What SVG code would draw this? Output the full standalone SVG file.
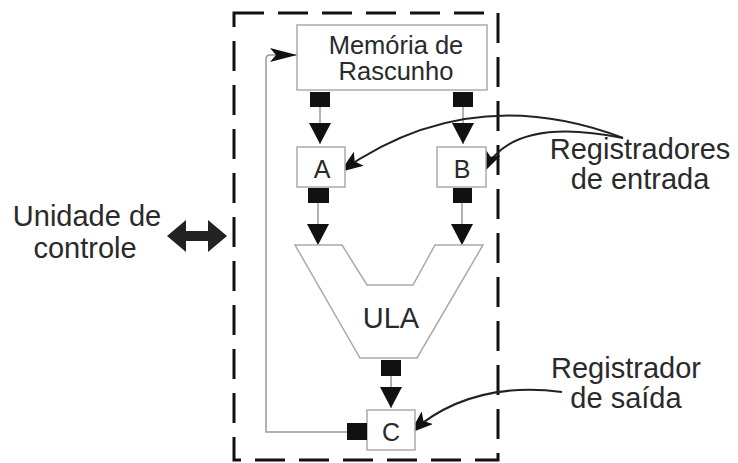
<svg xmlns="http://www.w3.org/2000/svg" width="738" height="463" viewBox="0 0 738 463">
<style>
.box{fill:#fff;stroke:#aaa;stroke-width:1.5}
.sq{fill:#111}
.t{font-family:"Liberation Sans",Arial,sans-serif;fill:#2a2a2a;text-anchor:middle}
.wire{fill:none;stroke:#999;stroke-width:1.5}
.curve{fill:none;stroke:#222;stroke-width:2}
</style>
<defs>
<marker id="down" markerUnits="userSpaceOnUse" markerWidth="22" markerHeight="22" refX="21" refY="11" orient="auto"><path d="M0,0 L21,11 L0,22 z" fill="#111"/></marker>
<marker id="cv" markerUnits="userSpaceOnUse" markerWidth="24" markerHeight="18" refX="23" refY="8.5" orient="auto"><path d="M0,0 L23,8.5 L0,17 L5,8.5 z" fill="#111"/></marker>
<marker id="fb" markerUnits="userSpaceOnUse" markerWidth="28" markerHeight="16" refX="27" refY="7" orient="auto"><path d="M0,0 L27,7 L0,14 L6,7 z" fill="#111"/></marker>
</defs>
<rect width="738" height="463" fill="#fff"/>
<rect x="234" y="13" width="264" height="447" fill="none" stroke="#111" stroke-width="3" stroke-dasharray="30 14"/>

<g id="connectors">
<line class="wire" x1="320" y1="107" x2="320" y2="144" marker-end="url(#down)"/>
<line class="wire" x1="463" y1="107" x2="463" y2="144" marker-end="url(#down)"/>
<line class="wire" x1="318" y1="203" x2="318" y2="245" marker-end="url(#down)"/>
<line class="wire" x1="462" y1="203" x2="462" y2="245" marker-end="url(#down)"/>
<line class="wire" x1="391" y1="376" x2="391" y2="408" marker-end="url(#down)"/>
<path class="wire" d="M347,432 L266,432 L266,59 Q266,55 270,55 L297,55" marker-end="url(#fb)"/>
<path class="curve" d="M623,138 Q470,80 340,172" marker-end="url(#cv)"/>
<path class="curve" d="M623,138 Q510,115 483,173" marker-end="url(#cv)"/>
<path class="curve" d="M562,392 Q470,380 410,433" marker-end="url(#cv)"/>
<polygon points="167,236 186,220 186,231 208,231 208,220 227,236 208,252 208,241 186,241 186,252" fill="#222"/>
</g>

<g id="memoria">
<rect class="box" x="297" y="25" width="190" height="65"/>
<text class="t" x="396" y="54" font-size="25.5">Memória de</text>
<text class="t" x="396" y="80" font-size="25.5">Rascunho</text>
<rect class="sq" x="310" y="92" width="20" height="15"/>
<rect class="sq" x="453" y="92" width="20" height="15"/>
</g>

<g id="regA">
<rect class="box" x="297" y="147" width="48" height="40"/>
<text class="t" x="322" y="178" font-size="25">A</text>
<rect class="sq" x="308" y="188" width="21" height="15"/>
</g>

<g id="regB">
<rect class="box" x="437" y="147" width="49" height="40"/>
<text class="t" x="462" y="178" font-size="25">B</text>
<rect class="sq" x="453" y="188" width="19" height="15"/>
</g>

<g id="ula">
<polygon class="box" points="295,245 342,245 367,285 413,285 435,245 483,245 417,358 360,358"/>
<text class="t" x="391" y="328" font-size="29">ULA</text>
<rect class="sq" x="381" y="360" width="20" height="16"/>
</g>

<g id="regC">
<rect class="box" x="367" y="410" width="48" height="40"/>
<text class="t" x="391" y="441" font-size="25">C</text>
<rect class="sq" x="347" y="423" width="20" height="17"/>
</g>

<g id="unidade">
<text class="t" x="87" y="226" font-size="29">Unidade de</text>
<text class="t" x="85" y="258" font-size="29">controle</text>
</g>

<g id="registradores">
<text class="t" x="640" y="159" font-size="29">Registradores</text>
<text class="t" x="640" y="189" font-size="29">de entrada</text>
</g>

<g id="registrador">
<text class="t" x="626" y="378" font-size="29">Registrador</text>
<text class="t" x="626" y="408" font-size="29">de saída</text>
</g>
</svg>
